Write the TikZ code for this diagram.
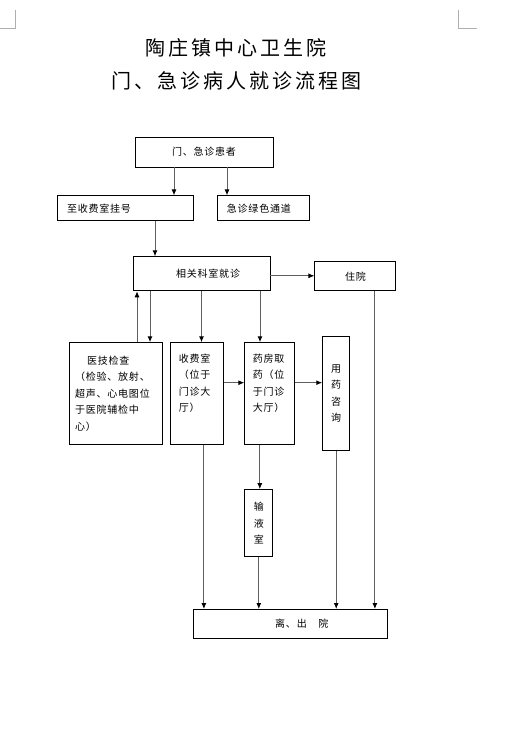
\documentclass[tikz,border=0pt]{standalone}
\usepackage{fontspec}
\setmainfont{Noto Sans CJK SC}
\newfontfamily\titlefont[LetterSpace=15]{Noto Sans CJK SC}
\newfontfamily\boxfont[LetterSpace=8]{Noto Sans CJK SC}
\usetikzlibrary{arrows.meta,positioning}
\definecolor{linea}{RGB}{95,95,95}
\definecolor{marca}{RGB}{175,175,175}

\begin{document}
\begin{tikzpicture}[x=1pt,y=-1pt,
caja/.style={draw,line width=0.9pt,inner sep=0pt,align=center,font=\boxfont\fontsize{10}{16.5}\selectfont},
cajaizq/.style={caja,align=left,inner ysep=0pt},
arr/.style={-{Latex[length=6pt,width=5pt,color=black]},draw=linea,line width=1pt},
titulo/.style={align=center,font=\titlefont\fontsize{20}{33}\selectfont}
]
\useasboundingbox (0,0) rectangle (504,747);

% marcas de margen
\draw[marca,line width=0.6pt] (15,10) -- (15,28) -- (0,28);
\draw[marca,line width=0.6pt] (458,10) -- (458,28) -- (477,28);

\node[titulo] (titulo) at (236,64) {陶庄镇中心卫生院\\门、急诊病人就诊流程图};

\node[caja,minimum width=138pt,minimum height=30pt] (huanzhe) at (204,152) {门、急诊患者};
\node[cajaizq,text width=116pt,inner xsep=10pt,minimum height=25pt,below=28pt of huanzhe,xshift=-79pt] (guahao) {至收费室挂号};
\node[cajaizq,text width=74pt,inner xsep=9pt,minimum height=25pt,right=24pt of guahao] (lvse) {急诊绿色通道};

\node[caja,minimum width=137pt,minimum height=34pt,below=35pt of guahao,xshift=76.5pt] (keshi) {\hspace*{13pt}相关科室就诊};
\node[caja,minimum width=81pt,minimum height=29pt,right=44pt of keshi,yshift=-2.5pt] (zhuyuan) {住院};

\node[cajaizq,text width=81pt,inner xsep=6pt,minimum height=102pt,below=51pt of keshi,xshift=-86pt] (yiji)
  {\hspace*{12pt}医技检查\\（检验、放射、\\超声、心电图位\\于医院辅检中\\心）};
\node[cajaizq,text width=37pt,inner xsep=8pt,minimum height=102pt,right=8pt of yiji] (shoufei)
  {收费室\\（位于\\门诊大\\厅）\\\strut};
\node[cajaizq,text width=34pt,inner xsep=8pt,minimum height=102pt,right=20pt of shoufei] (yaofang)
  {药房取\\药（位\\于门诊\\大厅）\\\strut};
\node[caja,minimum width=27pt,minimum height=114pt,right=27pt of yaofang] (zixun) {用\\药\\咨\\询};

\node[caja,minimum width=28pt,minimum height=67pt,below=44pt of yaofang,xshift=-11pt] (shuye) {输\\液\\室};
\node[caja,minimum width=194pt,minimum height=29pt,below=52pt of shuye,xshift=32pt] (chuyuan) {\hspace*{22pt}离、出　院};

\draw[arr] ([xshift=-30pt]huanzhe.south) -- ([xshift=-30pt]huanzhe.south |- guahao.north);
\draw[arr] ([xshift=23pt]huanzhe.south) -- ([xshift=23pt]huanzhe.south |- lvse.north);
\draw[arr] ([xshift=30pt]guahao.south) -- ([xshift=30pt]guahao.south |- keshi.north);
\draw[arr] ([yshift=-2pt]keshi.east) -- ([yshift=-2pt]keshi.east -| zhuyuan.west);

\draw[arr] ([xshift=-51.5pt]keshi.south) -- ([xshift=-51.5pt]keshi.south |- yiji.north);
\draw[arr] ([xshift=21.5pt]yiji.north) -- ([xshift=21.5pt]yiji.north |- keshi.south);
\draw[arr] (keshi.south) -- (keshi.south |- shoufei.north);
\draw[arr] ([xshift=58.5pt]keshi.south) -- ([xshift=58.5pt]keshi.south |- yaofang.north);

\draw[arr] ([yshift=11pt]shoufei.east) -- ([yshift=11pt]shoufei.east -| yaofang.west);
\draw[arr] ([yshift=11pt]yaofang.east) -- ([yshift=11pt]yaofang.east -| zixun.west);
\draw[arr] ([xshift=-10pt]yaofang.south) -- ([xshift=-10pt]yaofang.south |- shuye.north);

\draw[arr] ([xshift=6.5pt]shoufei.south) -- ([xshift=6.5pt]shoufei.south |- chuyuan.north);
\draw[arr] (shuye.south) -- (shuye.south |- chuyuan.north);
\draw[arr] (zixun.south) -- (zixun.south |- chuyuan.north);
\draw[arr] ([xshift=19.5pt]zhuyuan.south) -- ([xshift=19.5pt]zhuyuan.south |- chuyuan.north);
\end{tikzpicture}
\end{document}
